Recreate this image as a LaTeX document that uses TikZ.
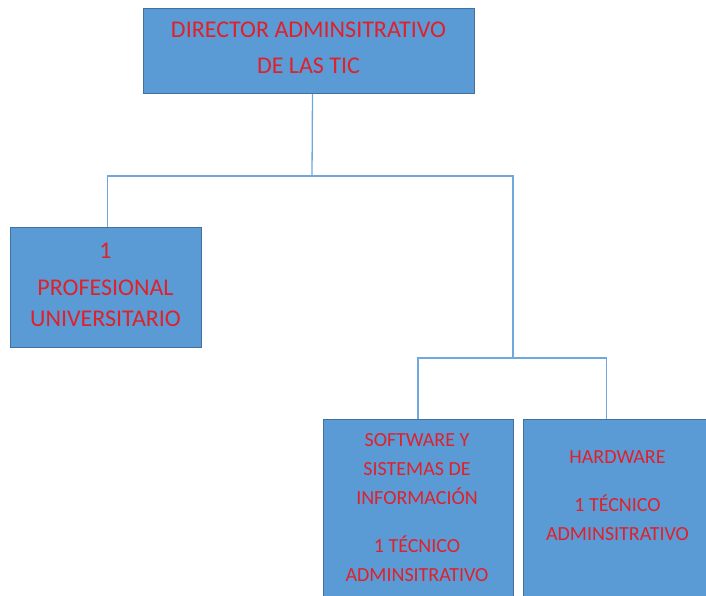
\documentclass[tikz,border=0pt]{standalone}
\usepackage{fontspec}
\setmainfont{Carlito}
\definecolor{boxfill}{HTML}{5B9BD5}
\definecolor{boxedge}{HTML}{41719C}
\definecolor{linec}{HTML}{6FA8DC}
\definecolor{txtred}{HTML}{E0202A}
\tikzset{
  orgbox/.style={draw=boxedge, fill=boxfill, line width=1pt, anchor=north west, inner sep=0pt},
  lbl/.style={text=txtred, align=center, inner sep=0pt, anchor=north},
  big/.style={font=\fontsize{24}{36}\selectfont},
  small/.style={font=\fontsize{20}{29}\selectfont},
  conn/.style={draw=linec, line width=1.3pt}
}
\begin{document}
\begin{tikzpicture}[x=1pt, y=-1pt]
\useasboundingbox (0,0) rectangle (706,595);
% boxes
\node[orgbox, minimum width=331pt, minimum height=85pt] (dir) at (143,8) {};
\node[orgbox, minimum width=191pt, minimum height=120pt] (prof) at (10,227) {};
\node[orgbox, minimum width=190pt, minimum height=190pt] (sw) at (323,419) {};
\node[orgbox, minimum width=190pt, minimum height=190pt] (hw) at (523,419) {};
% labels
\node[lbl, big] (dirt) at (308.5,22) {DIRECTOR ADMINSITRATIVO\\DE LAS TIC};
\node[lbl, big, font=\fontsize{24}{31}\selectfont] (proft) at (105.5,243) {1\\[6pt]PROFESIONAL\\UNIVERSITARIO};
\node[lbl, small] (swt) at (417,433) {SOFTWARE Y\\SISTEMAS DE\\INFORMACIÓN\\[19pt]1 TÉCNICO\\ADMINSITRATIVO};
\node[lbl, small] (hwt) at (617.5,450) {HARDWARE\\[19pt]1 TÉCNICO\\ADMINSITRATIVO};
% connectors
\coordinate (j1) at (312,176);
\coordinate (j2) at (513,358);
\draw[conn] ([xshift=3.5pt]dir.south) -- (j1);
\draw[conn] (j1) -| ([xshift=1.5pt]prof.north);
\draw[conn] (j1) -| (j2);
\draw[conn] (j2) -| ([xshift=-0.5pt]sw.north);
\draw[conn] (j2) -| ([xshift=-12pt]hw.north);
\end{tikzpicture}
\end{document}
